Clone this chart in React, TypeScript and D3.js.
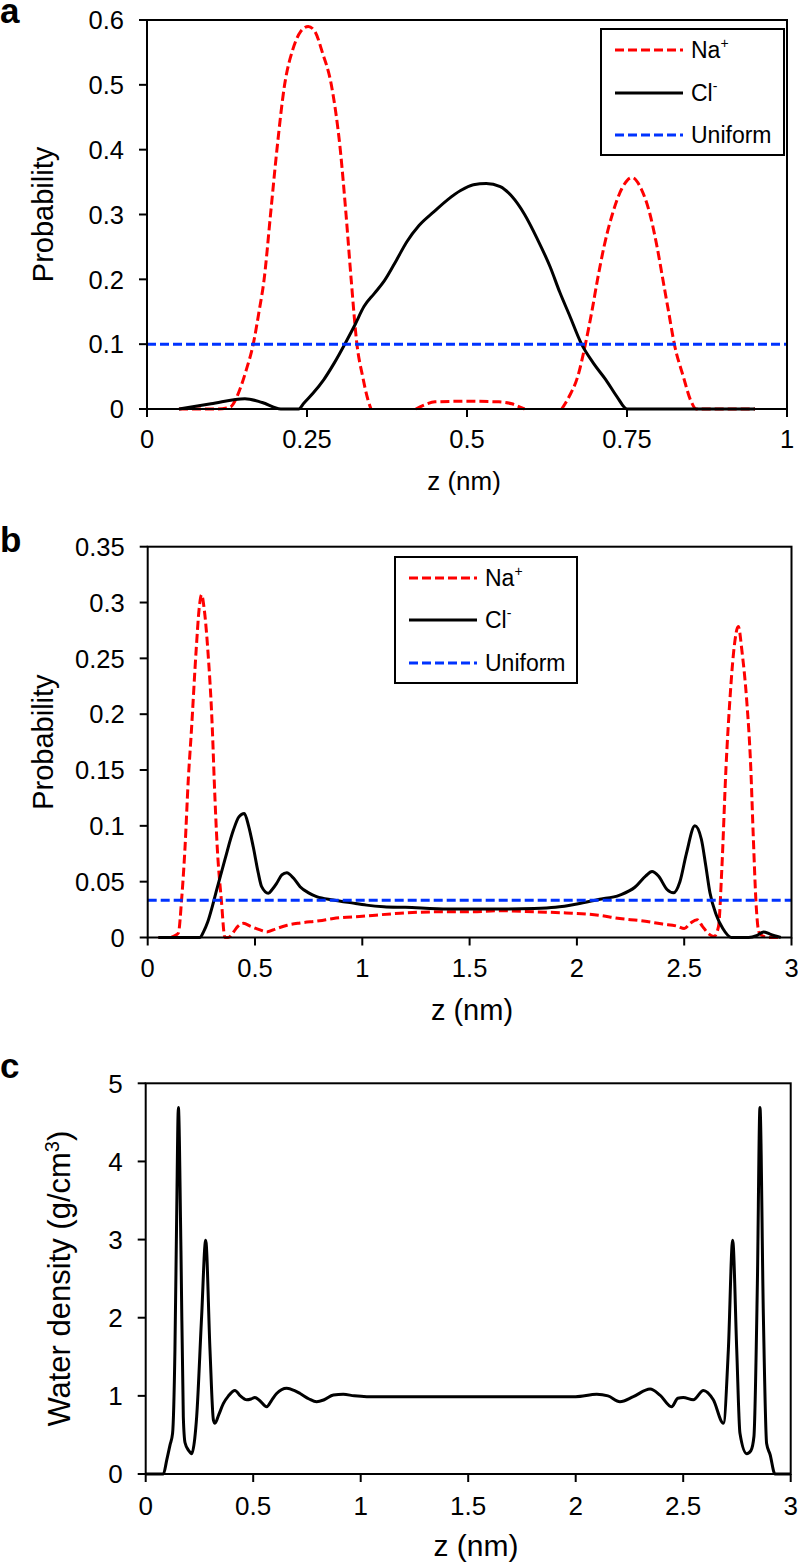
import React from "react";
import * as d3 from "d3";

// ---------- Panel a data ----------
const aNaZ = [0.05, 0.08, 0.11, 0.13, 0.145, 0.155, 0.166, 0.175, 0.183, 0.193, 0.203, 0.215, 0.228, 0.24, 0.252, 0.262, 0.274, 0.288, 0.302, 0.311, 0.319, 0.328, 0.337, 0.345, 0.35, 0.38, 0.42, 0.435, 0.45, 0.5, 0.55, 0.57, 0.585, 0.59, 0.62, 0.648, 0.66, 0.673, 0.685, 0.695, 0.704, 0.714, 0.727, 0.742, 0.758, 0.772, 0.786, 0.797, 0.806, 0.815, 0.824, 0.838, 0.85, 0.858, 0.9, 0.95];
const aNaP: (number | null)[] = [0, 0, 0, 0.003, 0.03, 0.06, 0.1, 0.15, 0.2, 0.3, 0.4, 0.5, 0.555, 0.582, 0.59, 0.583, 0.55, 0.5, 0.4, 0.3, 0.2, 0.1, 0.05, 0.015, 0, null, 0, 0.007, 0.011, 0.012, 0.011, 0.008, 0.002, 0, null, 0, 0.02, 0.05, 0.1, 0.15, 0.2, 0.25, 0.3, 0.34, 0.357, 0.34, 0.3, 0.25, 0.2, 0.15, 0.1, 0.05, 0.012, 0, 0, 0];
const aClZ = [0.05, 0.1, 0.153, 0.18, 0.209, 0.237, 0.245, 0.26, 0.276, 0.292, 0.309, 0.325, 0.339, 0.355, 0.371, 0.39, 0.406, 0.425, 0.448, 0.47, 0.49, 0.51, 0.53, 0.552, 0.57, 0.59, 0.61, 0.63, 0.645, 0.66, 0.679, 0.698, 0.717, 0.735, 0.75, 0.8, 0.85, 0.95];
const aClP = [0, 0.008, 0.016, 0.01, 0, 0, 0.009, 0.025, 0.045, 0.07, 0.1, 0.13, 0.158, 0.178, 0.198, 0.23, 0.258, 0.283, 0.304, 0.323, 0.337, 0.346, 0.348, 0.343, 0.328, 0.3, 0.262, 0.219, 0.18, 0.145, 0.1, 0.07, 0.045, 0.018, 0, 0, 0, 0];
const aUniform = 0.1;
const aXTicks = [0, 0.25, 0.5, 0.75, 1];
const aXLabels = ["0", "0.25", "0.5", "0.75", "1"];
const aYTicks = [0, 0.1, 0.2, 0.3, 0.4, 0.5, 0.6];
const aYLabels = ["0", "0.1", "0.2", "0.3", "0.4", "0.5", "0.6"];

// ---------- Panel b data ----------
const bNaZ = [0.05, 0.1, 0.13, 0.143, 0.158, 0.174, 0.189, 0.203, 0.226, 0.24, 0.251, 0.264, 0.28, 0.302, 0.31, 0.324, 0.343, 0.36, 0.375, 0.4, 0.42, 0.446, 0.48, 0.52, 0.555, 0.6, 0.65, 0.71, 0.8, 0.865, 1.0, 1.176, 1.35, 1.5, 1.65, 1.8, 1.95, 2.1, 2.2, 2.3, 2.4, 2.47, 2.5, 2.53, 2.56, 2.585, 2.61, 2.64, 2.66, 2.675, 2.695, 2.713, 2.73, 2.752, 2.77, 2.791, 2.81, 2.822, 2.835, 2.848, 2.87, 2.9, 2.95];
const bNaP = [0, 0, 0.002, 0.004, 0.034, 0.081, 0.141, 0.183, 0.258, 0.295, 0.307, 0.293, 0.258, 0.183, 0.141, 0.081, 0.034, 0, 0, 0.005, 0.01, 0.0127, 0.01, 0.007, 0.005, 0.008, 0.011, 0.013, 0.015, 0.017, 0.019, 0.0217, 0.023, 0.023, 0.024, 0.023, 0.022, 0.02, 0.017, 0.015, 0.012, 0.01, 0.008, 0.013, 0.016, 0.01, 0.004, 0.001, 0.01, 0.06, 0.153, 0.213, 0.255, 0.2785, 0.255, 0.213, 0.153, 0.09, 0.03, 0.005, 0.001, 0, 0];
const bClZ = [0.05, 0.1, 0.2, 0.244, 0.26, 0.28, 0.3, 0.321, 0.36, 0.399, 0.425, 0.45, 0.47, 0.492, 0.515, 0.531, 0.562, 0.58, 0.601, 0.625, 0.648, 0.68, 0.71, 0.75, 0.787, 0.865, 0.95, 1.02, 1.1, 1.2, 1.4, 1.6, 1.8, 1.9, 2.0, 2.1, 2.2, 2.27, 2.32, 2.35, 2.38, 2.42, 2.45, 2.48, 2.51, 2.55, 2.58, 2.6, 2.62, 2.65, 2.68, 2.72, 2.8, 2.84, 2.87, 2.9, 2.95];
const bClP = [0, 0, 0, 0, 0.005, 0.014, 0.027, 0.0425, 0.07, 0.096, 0.108, 0.111, 0.1, 0.081, 0.058, 0.0455, 0.0396, 0.043, 0.0486, 0.056, 0.058, 0.053, 0.0455, 0.04, 0.0366, 0.0336, 0.031, 0.029, 0.0276, 0.027, 0.0255, 0.0255, 0.026, 0.027, 0.03, 0.034, 0.038, 0.045, 0.055, 0.059, 0.055, 0.043, 0.04, 0.05, 0.075, 0.1, 0.088, 0.065, 0.04, 0.02, 0.008, 0, 0, 0.002, 0.005, 0.003, 0];
const bUniform = 1 / 30;
const bXTicks = [0, 0.5, 1, 1.5, 2, 2.5, 3];
const bXLabels = ["0", "0.5", "1", "1.5", "2", "2.5", "3"];
const bYTicks = [0, 0.05, 0.1, 0.15, 0.2, 0.25, 0.3, 0.35];
const bYLabels = ["0", "0.05", "0.1", "0.15", "0.2", "0.25", "0.3", "0.35"];

// ---------- Panel c data ----------
const cZ = [0, 0.05, 0.082, 0.098, 0.113, 0.125, 0.136, 0.144, 0.152, 0.164, 0.175, 0.183, 0.2, 0.214, 0.228, 0.237, 0.26, 0.279, 0.299, 0.315, 0.322, 0.34, 0.361, 0.385, 0.415, 0.44, 0.47, 0.49, 0.508, 0.53, 0.563, 0.585, 0.609, 0.656, 0.69, 0.718, 0.76, 0.795, 0.83, 0.873, 0.919, 0.97, 1.028, 1.2, 1.4, 1.6, 1.8, 2.0, 2.098, 2.15, 2.206, 2.268, 2.346, 2.392, 2.446, 2.475, 2.5, 2.547, 2.594, 2.64, 2.687, 2.71, 2.73, 2.749, 2.764, 2.795, 2.815, 2.829, 2.845, 2.857, 2.873, 2.888, 2.904, 2.927, 2.95, 3.0];
const cDensity = [0, 0, 0, 0.18, 0.37, 0.52, 1.59, 3.29, 4.69, 2.86, 0.73, 0.4, 0.3, 0.26, 0.45, 0.73, 2.01, 2.99, 1.59, 0.69, 0.65, 0.76, 0.9, 1.0, 1.07, 1.0, 0.95, 0.96, 0.98, 0.94, 0.86, 0.94, 1.03, 1.096, 1.07, 1.03, 0.96, 0.925, 0.95, 1.01, 1.02, 1.0, 0.99, 0.99, 0.99, 0.99, 0.99, 0.99, 1.02, 1.0, 0.925, 0.99, 1.087, 1.01, 0.86, 0.97, 0.98, 0.95, 1.07, 0.95, 0.65, 1.59, 2.99, 1.59, 0.52, 0.26, 0.3, 0.48, 2.44, 4.69, 2.01, 0.39, 0.25, 0, 0, 0];
const cXTicks = [0, 0.5, 1, 1.5, 2, 2.5, 3];
const cXLabels = ["0", "0.5", "1", "1.5", "2", "2.5", "3"];
const cYTicks = [0, 1, 2, 3, 4, 5];
const cYLabels = ["0", "1", "2", "3", "4", "5"];

const legendNames = ["Na", "Cl", "Uniform"];
const legendSups = ["+", "-", ""];

const FONT = "'Liberation Sans', Arial, Helvetica, sans-serif";
const RED = "#ff0000";
const BLUE = "#0033ff";
const DASH = "9,4";

type Series = { z: number[]; v: (number | null)[]; color: string; dash?: string };

function Panel(props: {
  letter: string;
  letterY: number;
  x0: number; x1: number; yTop: number; yBot: number;
  xDomain: [number, number]; yDomain: [number, number];
  xTicks: number[]; xLabels: string[]; yTicks: number[]; yLabels: string[];
  series: Series[];
  uniform?: number;
  yTitle: string | React.ReactNode; yTitleSize: number; yTitleX: number;
  xTitleSize: number; xTitleY: number; xTitleX: number;
  tickSize: number; tickLabelDy: number;
  legend?: { x: number; y: number; w: number; h: number; rowY: number[] };
}) {
  const p = props;
  const x = d3.scaleLinear().domain(p.xDomain).range([p.x0, p.x1]);
  const y = d3.scaleLinear().domain(p.yDomain).range([p.yBot, p.yTop]);
  const line = d3
    .line<[number, number | null]>()
    .defined((d) => d[1] !== null)
    .x((d) => x(d[0]))
    .y((d) => y(d[1] as number))
    .curve(d3.curveMonotoneX);
  const yMid = (p.yTop + p.yBot) / 2;
  return (
    <g>
      <text x={0} y={p.letterY} fontFamily={FONT} fontWeight="bold" fontSize={35}>{p.letter}</text>
      {p.series.map((s, i) => (
        <path
          key={i}
          d={line(s.z.map((zz, j) => [zz, s.v[j]] as [number, number | null])) || ""}
          fill="none"
          stroke={s.color}
          strokeWidth={3}
          strokeDasharray={s.dash}
          strokeLinejoin="round"
        />
      ))}
      {p.uniform !== undefined && (
        <line x1={x(p.xDomain[0])} x2={x(p.xDomain[1])} y1={y(p.uniform)} y2={y(p.uniform)} stroke={BLUE} strokeWidth={3} strokeDasharray={DASH} />
      )}
      <rect x={p.x0} y={p.yTop} width={p.x1 - p.x0} height={p.yBot - p.yTop} fill="none" stroke="#000" strokeWidth={2} />
      {p.yTicks.map((t, i) => (
        <g key={"y" + i}>
          <line x1={p.x0 - 8} x2={p.x0} y1={y(t)} y2={y(t)} stroke="#000" strokeWidth={2} />
          <text x={p.x0 - 23} y={y(t)} dy="0.36em" textAnchor="end" fontFamily={FONT} fontSize={p.tickSize}>{p.yLabels[i]}</text>
        </g>
      ))}
      {p.xTicks.map((t, i) => (
        <g key={"x" + i}>
          <line x1={x(t)} x2={x(t)} y1={p.yBot} y2={p.yBot + 8} stroke="#000" strokeWidth={2} />
          <text x={x(t)} y={p.yBot + p.tickLabelDy} textAnchor="middle" fontFamily={FONT} fontSize={p.tickSize}>{p.xLabels[i]}</text>
        </g>
      ))}
      <text x={p.xTitleX} y={p.xTitleY} textAnchor="middle" fontFamily={FONT} fontSize={p.xTitleSize}>z (nm)</text>
      <text transform={`translate(${p.yTitleX},${yMid}) rotate(-90)`} textAnchor="middle" fontFamily={FONT} fontSize={p.yTitleSize}>{p.yTitle}</text>
      {p.legend && (
        <g>
          <rect x={p.legend.x} y={p.legend.y} width={p.legend.w} height={p.legend.h} fill="#fff" stroke="#000" strokeWidth={2} />
          {legendNames.map((n, i) => {
            const ly = p.legend!.rowY[i];
            const color = i === 0 ? RED : i === 1 ? "#000" : BLUE;
            const dash = i === 1 ? undefined : DASH;
            return (
              <g key={n}>
                <line x1={p.legend!.x + 14} x2={p.legend!.x + 82} y1={ly} y2={ly} stroke={color} strokeWidth={3} strokeDasharray={dash} />
                <text x={p.legend!.x + 90} y={ly + 8} fontFamily={FONT} fontSize={23}>
                  {n}
                  {legendSups[i] && <tspan fontSize={14} dy={-10}>{legendSups[i]}</tspan>}
                </text>
              </g>
            );
          })}
        </g>
      )}
    </g>
  );
}

export default function App() {
  return (
    <svg width={798} height={1564} style={{ position: "absolute", left: 0, top: 0, background: "#fff" }}>
      <rect x={0} y={0} width={798} height={1564} fill="#fff" />
      <Panel
        letter="a" letterY={23}
        x0={147} x1={787} yTop={20} yBot={409}
        xDomain={[0, 1]} yDomain={[0, 0.6]}
        xTicks={aXTicks} xLabels={aXLabels} yTicks={aYTicks} yLabels={aYLabels}
        series={[
          { z: aNaZ, v: aNaP, color: RED, dash: DASH },
          { z: aClZ, v: aClP, color: "#000" },
        ]}
        uniform={aUniform}
        yTitle="Probability" yTitleSize={29} yTitleX={53}
        xTitleSize={26} xTitleY={490} xTitleX={464}
        tickSize={25.5} tickLabelDy={39}
        legend={{ x: 601, y: 29, w: 183, h: 126, rowY: [50, 93, 135] }}
      />
      <Panel
        letter="b" letterY={552}
        x0={147.7} x1={791.5} yTop={546.7} yBot={937.5}
        xDomain={[0, 3]} yDomain={[0, 0.35]}
        xTicks={bXTicks} xLabels={bXLabels} yTicks={bYTicks} yLabels={bYLabels}
        series={[
          { z: bNaZ, v: bNaP, color: RED, dash: DASH },
          { z: bClZ, v: bClP, color: "#000" },
        ]}
        uniform={bUniform}
        yTitle="Probability" yTitleSize={29} yTitleX={53}
        xTitleSize={29} xTitleY={1020} xTitleX={472}
        tickSize={25.5} tickLabelDy={39.5}
        legend={{ x: 395, y: 557, w: 182, h: 126, rowY: [578, 620, 663] }}
      />
      <Panel
        letter="c" letterY={1078}
        x0={145.7} x1={790.7} yTop={1083.3} yBot={1474}
        xDomain={[0, 3]} yDomain={[0, 5]}
        xTicks={cXTicks} xLabels={cXLabels} yTicks={cYTicks} yLabels={cYLabels}
        series={[{ z: cZ, v: cDensity, color: "#000" }]}
        yTitle={<>Water density (g/cm<tspan fontSize={20} dy={-11}>3</tspan><tspan dy={11}>)</tspan></>}
        yTitleSize={31} yTitleX={70}
        xTitleSize={30} xTitleY={1556} xTitleX={476}
        tickSize={26} tickLabelDy={41}
      />
    </svg>
  );
}
